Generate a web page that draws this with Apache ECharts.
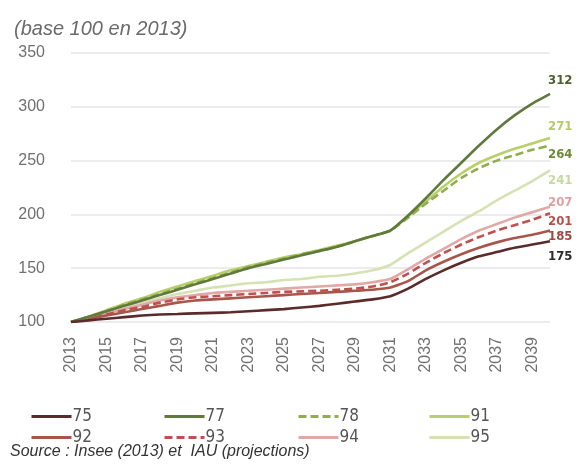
<!DOCTYPE html>
<html>
<head>
<meta charset="utf-8">
<script src="https://cdn.jsdelivr.net/npm/echarts@6/dist/echarts.min.js"></script>
<style>html,body{margin:0;padding:0;background:#fff}#c{width:579px;height:470px}</style>
</head>
<body>
<div id="c"></div>
<script>
const years = ['2013','2014','2015','2016','2017','2018','2019','2020','2021','2022','2023','2024','2025','2026','2027','2028','2029','2030','2031','2032','2033','2034','2035','2036','2037','2038','2039','2040'];
const yTicks = [100, 150, 200, 250, 300, 350];
const d75 = [100,101.5,103,104.5,106,107,107.5,108,108.5,109,110,111,112,113.5,115,117,119,121,124,131,140,148,155,161,165,169,172,175];
const d77 = [100,105,110,115,120,125,130,135,140,145,150,154,158,162,166,170,175,180,185,199,215,232,248,264,279,292,303,312];
const d78 = [100,105,110,116,121,126,131,136,141,146,151,155,159,163,166,170,175,180,185,197,210,222,234,243,250,255,260,264];
const d91 = [100,105,111,117,122,128,133,138,143,148,152,156,160,163,167,171,175,180,185,198,212,226,238,248,255,261,266,271];
const d92 = [100,103,106,109,112,115,118,120,121,122,123,124,125,126,127,128,129,130,132,138,148,156,163,169,174,178,181,185];
const d93 = [100,103,107,111,114,118,121,123,124,125,126,127,128,128.5,129,130,131,133,137,145,155,164,172,179,185,190,195,201];
const d94 = [100,104,108,112,116,120,123,125,127,128,129,130,131,132,133,134,135,137,140,149,159,168,177,185,191,197,202,207];
const d95 = [100,104,108,113,118,122,126,129,132,134,136,137,139,140,142,143,145,148,153,164,174,184,194,203,213,222,231,241];
const seriesNames = ['75','77','78','91','92','93','94','95'];
const seriesData = [d75,d77,d78,d91,d92,d93,d94,d95];
const titleText = '(base 100 en 2013)';
const sourceText = 'Source : Insee (2013) et  IAU (projections)';

// styles (not data)
const styles = {
  '75': {color:'#5b2b2b', dash:'solid', lbl:'#2b2b2b', off:[-4,15]},
  '77': {color:'#5f7a3c', dash:'solid', lbl:'#4d5e2d', off:[-4,-13]},
  '78': {color:'#8fae4c', dash:[8,4], lbl:'#6f8a3a', off:[-4,9]},
  '91': {color:'#b9cf6b', dash:'solid', lbl:'#b3ca66', off:[-4,-11]},
  '92': {color:'#a8564c', dash:'solid', lbl:'#9a4a40', off:[-4,6]},
  '93': {color:'#c0504d', dash:[8,4], lbl:'#b5504a', off:[-4,8]},
  '94': {color:'#e0a9a6', dash:'solid', lbl:'#e0a0a0', off:[-4,-4]},
  '95': {color:'#d6e2b4', dash:'solid', lbl:'#c8d8a0', off:[-4,10]}
};
const legendPos = [[25,403],[158,403],[292,403],[423,403],[25,424],[158,424],[292,424],[423,424]];

const chart = echarts.init(document.getElementById('c'));
const series = seriesNames.map((n,i)=>({
  name:n, type:'line', data:seriesData[i], symbol:'none', smooth:0.15,
  lineStyle:{color:styles[n].color, width:2.6, type:styles[n].dash},
  itemStyle:{color:styles[n].color},
  endLabel:{show:true, formatter:p=>Math.round(p.value), color:styles[n].lbl,
    fontWeight:'bold', fontSize:13, fontFamily:'DejaVu Sans Condensed, Liberation Sans Narrow, sans-serif',
    offset:styles[n].off, distance:2},
  z: 10 - i
}));
const legends = seriesNames.map((n,i)=>({
  data:[n], left:legendPos[i][0], top:legendPos[i][1], itemWidth:40, itemHeight:14, itemGap:0,
  selectedMode:false, itemStyle:{opacity:0},
  lineStyle:{width:3},
  textStyle:{color:'#555', fontSize:17, fontFamily:'Liberation Sans Narrow, DejaVu Sans Condensed, sans-serif', padding:[0,0,0,-4]}
}));
chart.setOption({
  animation:false,
  backgroundColor:'#fff',
  title:[
    {text:titleText, left:9, top:14, textStyle:{fontStyle:'italic', fontWeight:'normal', color:'#6a6a6a', fontSize:20, fontFamily:'Liberation Sans, Arial, sans-serif'}},
    {text:sourceText, left:5, top:439, textStyle:{fontStyle:'italic', fontWeight:'normal', color:'#333', fontSize:16, fontFamily:'Liberation Sans, Arial, sans-serif'}}
  ],
  legend:legends,
  grid:{left:71, right:29, top:53, bottom:148},
  xAxis:{type:'category', data:years, boundaryGap:false,
    axisLine:{show:false}, axisTick:{show:false},
    axisLabel:{interval:1, rotate:90, color:'#707070', fontSize:16, margin:15, fontFamily:'Liberation Sans, Arial, sans-serif'}},
  yAxis:{type:'value', min:yTicks[0], max:yTicks[yTicks.length-1], interval:50,
    axisLine:{show:false}, axisTick:{show:false},
    splitLine:{lineStyle:{color:'#e6e6e6', width:1.5}},
    axisLabel:{color:'#707070', fontSize:16, margin:26, fontFamily:'Liberation Sans, Arial, sans-serif'}},
  series:series
});
</script>
</body>
</html>
